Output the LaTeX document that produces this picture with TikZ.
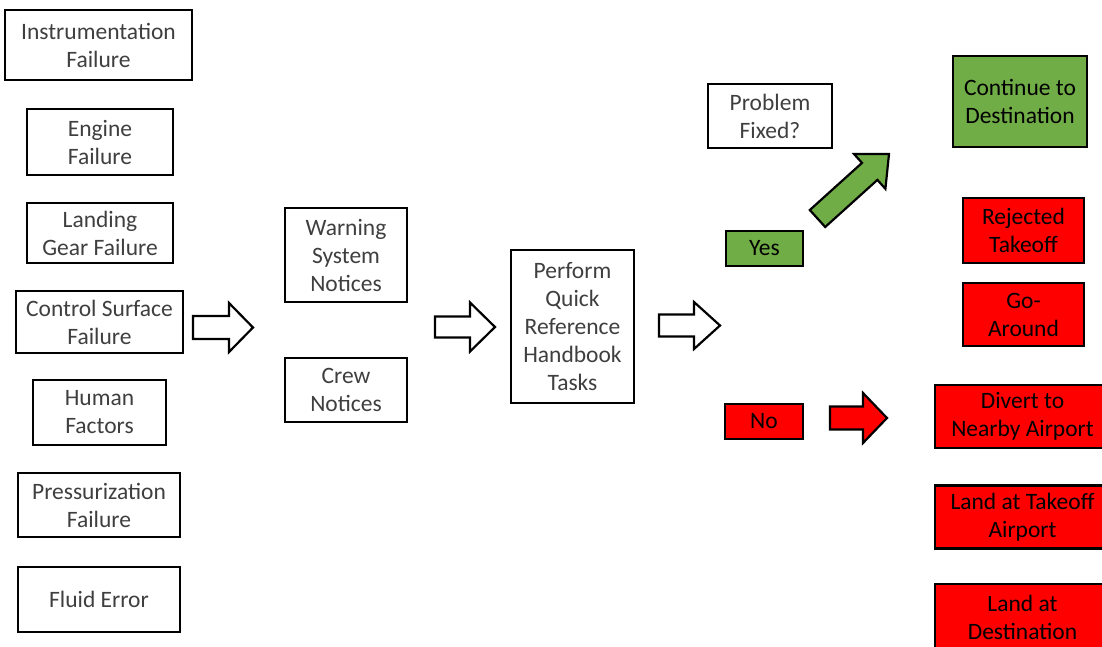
\documentclass[tikz,border=0pt]{standalone}
\usepackage{fontspec}
\setmainfont{Carlito}
\definecolor{okgreen}{HTML}{70AD47}
\definecolor{badred}{HTML}{FF0000}
\definecolor{txtgray}{HTML}{3F3F3F}
\tikzset{
  box/.style={draw=black, line width=2.2pt, fill=white, inner sep=0pt, align=center,
    text=txtgray, font=\fontsize{23.5}{28}\selectfont},
  gbox/.style={box, fill=okgreen, text=black},
  rbox/.style={box, fill=badred, text=black},
  hollow/.style={draw=black, line width=2.2pt, fill=white, line join=miter},
  redarrow/.style={draw=black, line width=2.2pt, fill=badred, line join=miter},
  greenarrow/.style={draw=black, line width=2.2pt, fill=okgreen, line join=miter}
}
% block arrow: #1 style, #2 x-tail, #3 x-head-start, #4 x-tip, #5 y-center, #6 body half, #7 head half
\newcommand\myblockarrow[7]{%
  \draw[#1] (#2,#5-#6) -- (#3,#5-#6) -- (#3,#5-#7) -- (#4,#5) -- (#3,#5+#7)
    -- (#3,#5+#6) -- (#2,#5+#6) -- cycle;}
\begin{document}
\begin{tikzpicture}[x=1pt,y=-1pt]
\useasboundingbox (0,0) rectangle (1102,646);
\begin{scope}
\clip (0,0) rectangle (1102,646);
% left column
\node[box, minimum width=187pt, minimum height=70pt] (inst) at (98.5,45) {Instrumentation\\Failure};
\node[box, minimum width=146pt, minimum height=66pt] (eng) at (100,142) {Engine\\Failure};
\node[box, minimum width=146pt, minimum height=60pt] (gear) at (100,233) {Landing\\Gear Failure};
\node[box, minimum width=167pt, minimum height=62pt] (ctrl) at (99.5,322) {Control Surface\\Failure};
\node[box, minimum width=133pt, minimum height=65pt] (human) at (99.5,412.5) {Human\\Factors};
\node[box, minimum width=162pt, minimum height=64pt] (press) at (99,505) {Pressurization\\Failure};
\node[box, minimum width=162pt, minimum height=65pt] (fluid) at (99,599.5) {Fluid Error};
% middle
\node[box, minimum width=122pt, minimum height=94pt] (warn) at (346,255) {Warning\\System\\Notices};
\node[box, minimum width=122pt, minimum height=64pt] (crew) at (346,390) {Crew\\Notices};
\node[box, minimum width=123pt, minimum height=153pt] (qrh) at (572.5,326.5) {Perform\\Quick\\Reference\\Handbook\\Tasks};
% decision
\node[box, minimum width=124pt, minimum height=64pt] (fixed) at (770,116) {Problem\\Fixed?};
\node[gbox, minimum width=77pt, minimum height=35pt] (yes) at (764.5,248.5) {Yes};
\node[rbox, minimum width=78pt, minimum height=35pt] (no) at (764,421.5) {No};
% outcomes
\node[gbox, minimum width=134pt, minimum height=91pt] (cont) at (1020,101.5) {Continue to\\Destination};
\node[rbox, minimum width=121pt, minimum height=65pt] (rej) at (1023.5,230.5) {Rejected\\Takeoff};
\node[rbox, minimum width=121pt, minimum height=63pt] (goa) at (1023.5,314.5) {Go-\\Around};
\node[rbox, minimum width=175pt, minimum height=63pt] (div) at (1022.5,416.5) {Divert to\\Nearby Airport};
\node[rbox, minimum width=175pt, minimum height=63pt] (ltk) at (1022.5,517) {Land at Takeoff\\Airport};
\node[rbox, minimum width=175pt, minimum height=66pt] (ldst) at (1022.5,617) {Land at\\Destination};
% block arrows
\myblockarrow{hollow}{193}{229}{253}{327.5}{11.5}{24.5}
\myblockarrow{hollow}{435}{470}{495}{327}{10.5}{24.5}
\myblockarrow{hollow}{659}{694}{720}{325.5}{11}{23.5}
\myblockarrow{redarrow}{830}{863}{887}{418}{11.5}{25}
\draw[greenarrow] (809.8,210.0) -- (862.0,162.9) -- (854.0,154.0) -- (889,154)
  -- (885.4,188.8) -- (877.4,179.9) -- (825.2,227.0) -- cycle;
\end{scope}
\end{tikzpicture}
\end{document}
